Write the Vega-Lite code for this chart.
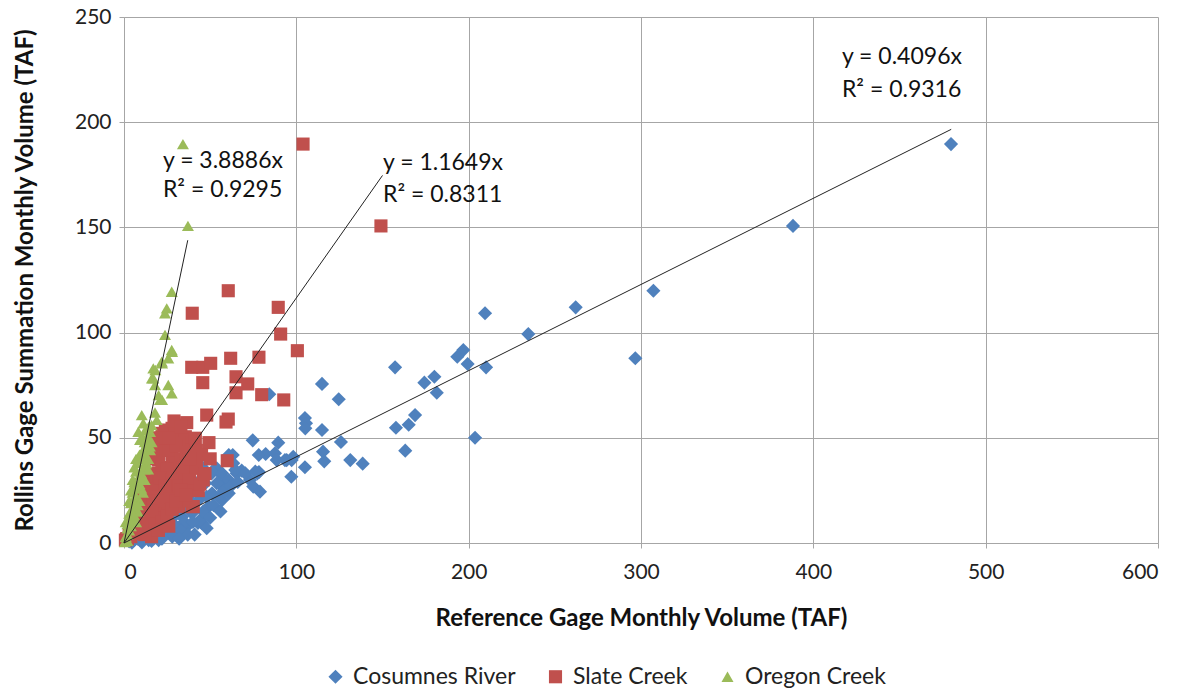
{
  "$schema": "https://vega.github.io/schema/vega-lite/v6.json",
  "width": 1034,
  "height": 526,
  "autosize": {"type": "none"},
  "padding": {"left": 124, "top": 17, "right": 27, "bottom": 151},
  "background": "white",
  "config": {
    "view": {"stroke": null},
    "font": "Lato",
    "axis": {"gridColor": "#a6a6a6", "gridWidth": 1, "domainColor": "#a6a6a6", "tickColor": "#a6a6a6", "tickSize": 5, "labelFont": "Lato", "labelFontSize": 21, "labelColor": "#222", "titleFont": "Lato", "titleFontSize": 24, "titleFontWeight": "bold", "titleColor": "#111"},
    "legend": {"labelFont": "Lato", "labelFontSize": 23, "labelColor": "#222", "labelLimit": 400}
  },
  "datasets": {
    "trend": [
      {"series": "Cosumnes River", "x": 0, "y": 0},
      {"series": "Cosumnes River", "x": 480, "y": 196.6},
      {"series": "Slate Creek", "x": 0, "y": 0},
      {"series": "Slate Creek", "x": 150, "y": 174.7},
      {"series": "Oregon Creek", "x": 0, "y": 0},
      {"series": "Oregon Creek", "x": 37, "y": 143.9}
    ],
    "notes": [
      {"label": "y = 0.4096x", "x": 416.6, "y": 231},
      {"label": "R² = 0.9316", "x": 416.6, "y": 215.3},
      {"label": "y = 1.1649x", "x": 150.3, "y": 180.6},
      {"label": "R² = 0.8311", "x": 150.3, "y": 165.4},
      {"label": "y = 3.8886x", "x": 22.6, "y": 181.6},
      {"label": "R² = 0.9295", "x": 22.6, "y": 167.8}
    ]
  },
  "data": {"values": [
    {"series": "Cosumnes River", "x": 479.9, "y": 189.6},
    {"series": "Cosumnes River", "x": 388.2, "y": 150.7},
    {"series": "Cosumnes River", "x": 307.2, "y": 119.9},
    {"series": "Cosumnes River", "x": 262.1, "y": 112.0},
    {"series": "Cosumnes River", "x": 234.6, "y": 99.3},
    {"series": "Cosumnes River", "x": 296.7, "y": 87.8},
    {"series": "Cosumnes River", "x": 209.5, "y": 109.2},
    {"series": "Cosumnes River", "x": 210.1, "y": 83.5},
    {"series": "Cosumnes River", "x": 196.9, "y": 91.7},
    {"series": "Cosumnes River", "x": 193.4, "y": 88.5},
    {"series": "Cosumnes River", "x": 199.4, "y": 85.1},
    {"series": "Cosumnes River", "x": 157.3, "y": 83.5},
    {"series": "Cosumnes River", "x": 180.1, "y": 79.0},
    {"series": "Cosumnes River", "x": 174.3, "y": 76.2},
    {"series": "Cosumnes River", "x": 181.5, "y": 71.4},
    {"series": "Cosumnes River", "x": 168.9, "y": 60.8},
    {"series": "Cosumnes River", "x": 165.2, "y": 56.2},
    {"series": "Cosumnes River", "x": 157.8, "y": 54.8},
    {"series": "Cosumnes River", "x": 163.2, "y": 43.9},
    {"series": "Cosumnes River", "x": 203.7, "y": 50.0},
    {"series": "Cosumnes River", "x": 114.9, "y": 75.6},
    {"series": "Cosumnes River", "x": 124.6, "y": 68.3},
    {"series": "Cosumnes River", "x": 105.0, "y": 59.4},
    {"series": "Cosumnes River", "x": 105.6, "y": 56.9},
    {"series": "Cosumnes River", "x": 105.2, "y": 54.5},
    {"series": "Cosumnes River", "x": 114.9, "y": 53.7},
    {"series": "Cosumnes River", "x": 125.9, "y": 48.0},
    {"series": "Cosumnes River", "x": 115.5, "y": 43.4},
    {"series": "Cosumnes River", "x": 116.2, "y": 38.8},
    {"series": "Cosumnes River", "x": 131.3, "y": 39.4},
    {"series": "Cosumnes River", "x": 138.5, "y": 37.7},
    {"series": "Cosumnes River", "x": 105.0, "y": 36.0},
    {"series": "Cosumnes River", "x": 97.1, "y": 31.5},
    {"series": "Cosumnes River", "x": 89.5, "y": 47.7},
    {"series": "Cosumnes River", "x": 74.7, "y": 48.8},
    {"series": "Cosumnes River", "x": 84.3, "y": 70.7},
    {"series": "Cosumnes River", "x": 82.2, "y": 42.3},
    {"series": "Cosumnes River", "x": 87.6, "y": 42.6},
    {"series": "Cosumnes River", "x": 88.6, "y": 39.4},
    {"series": "Cosumnes River", "x": 94.4, "y": 39.4},
    {"series": "Cosumnes River", "x": 97.3, "y": 39.4},
    {"series": "Cosumnes River", "x": 63.1, "y": 41.8},
    {"series": "Cosumnes River", "x": 78.3, "y": 33.7},
    {"series": "Cosumnes River", "x": 77.4, "y": 33.1},
    {"series": "Cosumnes River", "x": 68.3, "y": 34.4},
    {"series": "Cosumnes River", "x": 65.4, "y": 33.1},
    {"series": "Cosumnes River", "x": 59.6, "y": 29.1},
    {"series": "Cosumnes River", "x": 53.8, "y": 35.5},
    {"series": "Cosumnes River", "x": 50.9, "y": 33.1},
    {"series": "Cosumnes River", "x": 55.7, "y": 33.1},
    {"series": "Cosumnes River", "x": 73.1, "y": 29.9},
    {"series": "Cosumnes River", "x": 75.0, "y": 26.8},
    {"series": "Cosumnes River", "x": 78.9, "y": 24.4},
    {"series": "Cosumnes River", "x": 45.1, "y": 36.3},
    {"series": "Cosumnes River", "x": 42.9, "y": 9.5},
    {"series": "Cosumnes River", "x": 36.4, "y": 7.7},
    {"series": "Cosumnes River", "x": 60.8, "y": 41.8},
    {"series": "Cosumnes River", "x": 78.2, "y": 41.8},
    {"series": "Cosumnes River", "x": 51.1, "y": 33.9},
    {"series": "Cosumnes River", "x": 56.9, "y": 33.1},
    {"series": "Cosumnes River", "x": 64.6, "y": 34.7},
    {"series": "Cosumnes River", "x": 70.4, "y": 33.1},
    {"series": "Cosumnes River", "x": 76.2, "y": 33.9},
    {"series": "Cosumnes River", "x": 47.2, "y": 28.4},
    {"series": "Cosumnes River", "x": 55.0, "y": 28.4},
    {"series": "Cosumnes River", "x": 60.8, "y": 29.9},
    {"series": "Cosumnes River", "x": 51.1, "y": 23.6},
    {"series": "Cosumnes River", "x": 60.8, "y": 23.6},
    {"series": "Cosumnes River", "x": 43.3, "y": 20.4},
    {"series": "Cosumnes River", "x": 49.2, "y": 17.3},
    {"series": "Cosumnes River", "x": 56.9, "y": 20.4},
    {"series": "Cosumnes River", "x": 39.5, "y": 14.1},
    {"series": "Cosumnes River", "x": 45.3, "y": 9.4},
    {"series": "Cosumnes River", "x": 33.7, "y": 12.5},
    {"series": "Cosumnes River", "x": 27.9, "y": 9.4},
    {"series": "Cosumnes River", "x": 31.7, "y": 6.2},
    {"series": "Cosumnes River", "x": 24.0, "y": 4.6},
    {"series": "Cosumnes River", "x": 20.1, "y": 1.4},
    {"series": "Cosumnes River", "x": 14.3, "y": 1.4},
    {"series": "Cosumnes River", "x": 10.4, "y": 0.3},
    {"series": "Cosumnes River", "x": 4.6, "y": 0.2},
    {"series": "Cosumnes River", "x": 98.2, "y": 41.0},
    {"series": "Cosumnes River", "x": 93.4, "y": 39.4},
    {"series": "Cosumnes River", "x": 63.4, "y": 37.9},
    {"series": "Cosumnes River", "x": 44.1, "y": 29.9},
    {"series": "Cosumnes River", "x": 34.4, "y": 18.9},
    {"series": "Cosumnes River", "x": 44.1, "y": 10.9},
    {"series": "Cosumnes River", "x": 30.6, "y": 14.1},
    {"series": "Cosumnes River", "x": 24.8, "y": 7.7},
    {"series": "Cosumnes River", "x": 17.0, "y": 3.0},
    {"series": "Cosumnes River", "x": 9.3, "y": 1.4},
    {"series": "Cosumnes River", "x": 53.8, "y": 28.4},
    {"series": "Cosumnes River", "x": 38, "y": 16},
    {"series": "Cosumnes River", "x": 35, "y": 10},
    {"series": "Cosumnes River", "x": 28, "y": 12},
    {"series": "Cosumnes River", "x": 22, "y": 6},
    {"series": "Cosumnes River", "x": 18, "y": 5},
    {"series": "Cosumnes River", "x": 12, "y": 3},
    {"series": "Cosumnes River", "x": 8, "y": 2},
    {"series": "Cosumnes River", "x": 6, "y": 1.5},
    {"series": "Cosumnes River", "x": 3, "y": 0.8},
    {"series": "Cosumnes River", "x": 40, "y": 19},
    {"series": "Cosumnes River", "x": 48, "y": 22},
    {"series": "Cosumnes River", "x": 26, "y": 5},
    {"series": "Cosumnes River", "x": 41, "y": 4},
    {"series": "Cosumnes River", "x": 30, "y": 8},
    {"series": "Cosumnes River", "x": 33, "y": 6},
    {"series": "Cosumnes River", "x": 37, "y": 4},
    {"series": "Cosumnes River", "x": 40, "y": 10},
    {"series": "Cosumnes River", "x": 46, "y": 15},
    {"series": "Cosumnes River", "x": 50, "y": 12},
    {"series": "Cosumnes River", "x": 52, "y": 18},
    {"series": "Cosumnes River", "x": 55, "y": 22},
    {"series": "Cosumnes River", "x": 58, "y": 25},
    {"series": "Cosumnes River", "x": 62, "y": 27},
    {"series": "Cosumnes River", "x": 66, "y": 29},
    {"series": "Cosumnes River", "x": 28, "y": 3},
    {"series": "Cosumnes River", "x": 32, "y": 2},
    {"series": "Cosumnes River", "x": 22, "y": 2},
    {"series": "Cosumnes River", "x": 16, "y": 1},
    {"series": "Cosumnes River", "x": 48, "y": 7},
    {"series": "Cosumnes River", "x": 56, "y": 15},
    {"series": "Slate Creek", "x": 103.9, "y": 189.6},
    {"series": "Slate Creek", "x": 149.1, "y": 150.7},
    {"series": "Slate Creek", "x": 60.5, "y": 119.9},
    {"series": "Slate Creek", "x": 39.6, "y": 109.2},
    {"series": "Slate Creek", "x": 89.5, "y": 112.0},
    {"series": "Slate Creek", "x": 90.9, "y": 99.3},
    {"series": "Slate Creek", "x": 100.6, "y": 91.4},
    {"series": "Slate Creek", "x": 61.9, "y": 87.8},
    {"series": "Slate Creek", "x": 78.3, "y": 88.3},
    {"series": "Slate Creek", "x": 39.3, "y": 83.5},
    {"series": "Slate Creek", "x": 45.7, "y": 83.5},
    {"series": "Slate Creek", "x": 50.3, "y": 85.4},
    {"series": "Slate Creek", "x": 65.0, "y": 79.0},
    {"series": "Slate Creek", "x": 45.7, "y": 76.2},
    {"series": "Slate Creek", "x": 71.8, "y": 75.6},
    {"series": "Slate Creek", "x": 65.0, "y": 71.4},
    {"series": "Slate Creek", "x": 79.9, "y": 70.5},
    {"series": "Slate Creek", "x": 92.7, "y": 68.0},
    {"series": "Slate Creek", "x": 48.0, "y": 60.8},
    {"series": "Slate Creek", "x": 60.5, "y": 58.9},
    {"series": "Slate Creek", "x": 59.2, "y": 57.5},
    {"series": "Slate Creek", "x": 36.4, "y": 57.2},
    {"series": "Slate Creek", "x": 49.3, "y": 47.7},
    {"series": "Slate Creek", "x": 39.3, "y": 48.1},
    {"series": "Slate Creek", "x": 33.5, "y": 49.0},
    {"series": "Slate Creek", "x": 59.9, "y": 39.1},
    {"series": "Slate Creek", "x": 39.3, "y": 37.9},
    {"series": "Slate Creek", "x": 40.2, "y": 35.5},
    {"series": "Slate Creek", "x": 43.1, "y": 24.9},
    {"series": "Slate Creek", "x": 34.4, "y": 25.2},
    {"series": "Slate Creek", "x": 40.2, "y": 17.3},
    {"series": "Slate Creek", "x": 31.7, "y": 56.1},
    {"series": "Slate Creek", "x": 27.9, "y": 54.5},
    {"series": "Slate Creek", "x": 24.0, "y": 53.7},
    {"series": "Slate Creek", "x": 22.1, "y": 52.1},
    {"series": "Slate Creek", "x": 29.8, "y": 52.1},
    {"series": "Slate Creek", "x": 35.6, "y": 50.5},
    {"series": "Slate Creek", "x": 41.4, "y": 49.8},
    {"series": "Slate Creek", "x": 24.0, "y": 47.4},
    {"series": "Slate Creek", "x": 31.7, "y": 47.4},
    {"series": "Slate Creek", "x": 39.5, "y": 37.1},
    {"series": "Slate Creek", "x": 20.1, "y": 39.4},
    {"series": "Slate Creek", "x": 27.9, "y": 42.6},
    {"series": "Slate Creek", "x": 18.2, "y": 33.1},
    {"series": "Slate Creek", "x": 25.9, "y": 29.9},
    {"series": "Slate Creek", "x": 31.7, "y": 31.5},
    {"series": "Slate Creek", "x": 22.1, "y": 25.2},
    {"series": "Slate Creek", "x": 29.8, "y": 25.2},
    {"series": "Slate Creek", "x": 37.5, "y": 28.4},
    {"series": "Slate Creek", "x": 39.5, "y": 17.3},
    {"series": "Slate Creek", "x": 31.7, "y": 17.3},
    {"series": "Slate Creek", "x": 24.0, "y": 17.3},
    {"series": "Slate Creek", "x": 18.2, "y": 14.1},
    {"series": "Slate Creek", "x": 12.4, "y": 10.9},
    {"series": "Slate Creek", "x": 8.5, "y": 7.7},
    {"series": "Slate Creek", "x": 4.6, "y": 4.6},
    {"series": "Slate Creek", "x": 0.8, "y": 1.4},
    {"series": "Slate Creek", "x": 15, "y": 30},
    {"series": "Slate Creek", "x": 18, "y": 40},
    {"series": "Slate Creek", "x": 20, "y": 45},
    {"series": "Slate Creek", "x": 22, "y": 36},
    {"series": "Slate Creek", "x": 26, "y": 44},
    {"series": "Slate Creek", "x": 28, "y": 38},
    {"series": "Slate Creek", "x": 30, "y": 46},
    {"series": "Slate Creek", "x": 33, "y": 40},
    {"series": "Slate Creek", "x": 35, "y": 33},
    {"series": "Slate Creek", "x": 12, "y": 22},
    {"series": "Slate Creek", "x": 14, "y": 18},
    {"series": "Slate Creek", "x": 16, "y": 25},
    {"series": "Slate Creek", "x": 19, "y": 28},
    {"series": "Slate Creek", "x": 23, "y": 20},
    {"series": "Slate Creek", "x": 27, "y": 22},
    {"series": "Slate Creek", "x": 10, "y": 15},
    {"series": "Slate Creek", "x": 8, "y": 12},
    {"series": "Slate Creek", "x": 6, "y": 9},
    {"series": "Slate Creek", "x": 5, "y": 5},
    {"series": "Slate Creek", "x": 3, "y": 4},
    {"series": "Slate Creek", "x": 2, "y": 2},
    {"series": "Slate Creek", "x": 7, "y": 14},
    {"series": "Slate Creek", "x": 9, "y": 20},
    {"series": "Slate Creek", "x": 11, "y": 26},
    {"series": "Slate Creek", "x": 13, "y": 32},
    {"series": "Slate Creek", "x": 36, "y": 43},
    {"series": "Slate Creek", "x": 30, "y": 36},
    {"series": "Slate Creek", "x": 25, "y": 35},
    {"series": "Slate Creek", "x": 21, "y": 31},
    {"series": "Slate Creek", "x": 17, "y": 20},
    {"series": "Slate Creek", "x": 20, "y": 12},
    {"series": "Slate Creek", "x": 28, "y": 30},
    {"series": "Slate Creek", "x": 32, "y": 27},
    {"series": "Slate Creek", "x": 35, "y": 20},
    {"series": "Slate Creek", "x": 38, "y": 31},
    {"series": "Slate Creek", "x": 45, "y": 42},
    {"series": "Slate Creek", "x": 46, "y": 30},
    {"series": "Slate Creek", "x": 42, "y": 44},
    {"series": "Slate Creek", "x": 50, "y": 40},
    {"series": "Slate Creek", "x": 13, "y": 12},
    {"series": "Slate Creek", "x": 10, "y": 8},
    {"series": "Slate Creek", "x": 6, "y": 6},
    {"series": "Slate Creek", "x": 4, "y": 3},
    {"series": "Slate Creek", "x": 1.5, "y": 2},
    {"series": "Slate Creek", "x": 16, "y": 15},
    {"series": "Slate Creek", "x": 24, "y": 27},
    {"series": "Slate Creek", "x": 34, "y": 36},
    {"series": "Slate Creek", "x": 10, "y": 5},
    {"series": "Slate Creek", "x": 14, "y": 8},
    {"series": "Slate Creek", "x": 18, "y": 9},
    {"series": "Slate Creek", "x": 22, "y": 10},
    {"series": "Slate Creek", "x": 25, "y": 13},
    {"series": "Slate Creek", "x": 16, "y": 3},
    {"series": "Slate Creek", "x": 20, "y": 6},
    {"series": "Slate Creek", "x": 12, "y": 4},
    {"series": "Slate Creek", "x": 28, "y": 16},
    {"series": "Slate Creek", "x": 26, "y": 8},
    {"series": "Slate Creek", "x": 30, "y": 20},
    {"series": "Slate Creek", "x": 33, "y": 25},
    {"series": "Slate Creek", "x": 36, "y": 23},
    {"series": "Slate Creek", "x": 42, "y": 36},
    {"series": "Slate Creek", "x": 44, "y": 28},
    {"series": "Slate Creek", "x": 47, "y": 33},
    {"series": "Slate Creek", "x": 38, "y": 40},
    {"series": "Slate Creek", "x": 22, "y": 50},
    {"series": "Slate Creek", "x": 19, "y": 50},
    {"series": "Slate Creek", "x": 17, "y": 45},
    {"series": "Slate Creek", "x": 26, "y": 50},
    {"series": "Slate Creek", "x": 29, "y": 58},
    {"series": "Slate Creek", "x": 33, "y": 55},
    {"series": "Oregon Creek", "x": 34.2, "y": 189.6},
    {"series": "Oregon Creek", "x": 37.1, "y": 150.7},
    {"series": "Oregon Creek", "x": 27.7, "y": 119.4},
    {"series": "Oregon Creek", "x": 24.8, "y": 111.5},
    {"series": "Oregon Creek", "x": 23.8, "y": 109.2},
    {"series": "Oregon Creek", "x": 23.8, "y": 98.9},
    {"series": "Oregon Creek", "x": 27.7, "y": 91.7},
    {"series": "Oregon Creek", "x": 25.7, "y": 87.8},
    {"series": "Oregon Creek", "x": 17.0, "y": 83.0},
    {"series": "Oregon Creek", "x": 21.9, "y": 86.2},
    {"series": "Oregon Creek", "x": 17.0, "y": 78.3},
    {"series": "Oregon Creek", "x": 18.0, "y": 75.1},
    {"series": "Oregon Creek", "x": 25.7, "y": 75.1},
    {"series": "Oregon Creek", "x": 27.7, "y": 71.2},
    {"series": "Oregon Creek", "x": 20.9, "y": 68.0},
    {"series": "Oregon Creek", "x": 10.3, "y": 60.8},
    {"series": "Oregon Creek", "x": 11.2, "y": 56.9},
    {"series": "Oregon Creek", "x": 19.0, "y": 58.5},
    {"series": "Oregon Creek", "x": 8.3, "y": 52.9},
    {"series": "Oregon Creek", "x": 15.1, "y": 52.9},
    {"series": "Oregon Creek", "x": 9.3, "y": 49.0},
    {"series": "Oregon Creek", "x": 13.2, "y": 47.4},
    {"series": "Oregon Creek", "x": 15.1, "y": 44.2},
    {"series": "Oregon Creek", "x": 27.9, "y": 90.9},
    {"series": "Oregon Creek", "x": 22.1, "y": 85.4},
    {"series": "Oregon Creek", "x": 18.2, "y": 82.2},
    {"series": "Oregon Creek", "x": 16.2, "y": 78.3},
    {"series": "Oregon Creek", "x": 22.1, "y": 68.0},
    {"series": "Oregon Creek", "x": 20.1, "y": 70.3},
    {"series": "Oregon Creek", "x": 14.3, "y": 55.3},
    {"series": "Oregon Creek", "x": 12.4, "y": 53.7},
    {"series": "Oregon Creek", "x": 13.3, "y": 50.5},
    {"series": "Oregon Creek", "x": 12, "y": 42},
    {"series": "Oregon Creek", "x": 10, "y": 40},
    {"series": "Oregon Creek", "x": 8, "y": 38},
    {"series": "Oregon Creek", "x": 11, "y": 36},
    {"series": "Oregon Creek", "x": 7, "y": 34},
    {"series": "Oregon Creek", "x": 9, "y": 32},
    {"series": "Oregon Creek", "x": 12, "y": 30},
    {"series": "Oregon Creek", "x": 6, "y": 29},
    {"series": "Oregon Creek", "x": 8, "y": 27},
    {"series": "Oregon Creek", "x": 10, "y": 26},
    {"series": "Oregon Creek", "x": 5, "y": 24},
    {"series": "Oregon Creek", "x": 7, "y": 22},
    {"series": "Oregon Creek", "x": 9, "y": 20},
    {"series": "Oregon Creek", "x": 4, "y": 19},
    {"series": "Oregon Creek", "x": 6, "y": 17},
    {"series": "Oregon Creek", "x": 8, "y": 15},
    {"series": "Oregon Creek", "x": 3, "y": 14},
    {"series": "Oregon Creek", "x": 5, "y": 12},
    {"series": "Oregon Creek", "x": 7, "y": 10},
    {"series": "Oregon Creek", "x": 2, "y": 9},
    {"series": "Oregon Creek", "x": 4, "y": 8},
    {"series": "Oregon Creek", "x": 3, "y": 6},
    {"series": "Oregon Creek", "x": 2, "y": 4},
    {"series": "Oregon Creek", "x": 1, "y": 3},
    {"series": "Oregon Creek", "x": 1, "y": 1},
    {"series": "Oregon Creek", "x": 0.5, "y": 0.5},
    {"series": "Oregon Creek", "x": 2, "y": 1},
    {"series": "Oregon Creek", "x": 13, "y": 38},
    {"series": "Oregon Creek", "x": 14, "y": 40},
    {"series": "Oregon Creek", "x": 11, "y": 44},
    {"series": "Oregon Creek", "x": 6, "y": 36},
    {"series": "Oregon Creek", "x": 4, "y": 25},
    {"series": "Oregon Creek", "x": 10, "y": 33},
    {"series": "Oregon Creek", "x": 13, "y": 45},
    {"series": "Oregon Creek", "x": 9, "y": 42},
    {"series": "Oregon Creek", "x": 5, "y": 30},
    {"series": "Oregon Creek", "x": 3, "y": 20},
    {"series": "Oregon Creek", "x": 1, "y": 10},
    {"series": "Oregon Creek", "x": 14, "y": 50},
    {"series": "Oregon Creek", "x": 12, "y": 48},
    {"series": "Oregon Creek", "x": 16, "y": 56},
    {"series": "Oregon Creek", "x": 18, "y": 62},
    {"series": "Oregon Creek", "x": 11, "y": 50},
    {"series": "Oregon Creek", "x": 7, "y": 40},
    {"series": "Oregon Creek", "x": 6, "y": 26},
    {"series": "Oregon Creek", "x": 5, "y": 20},
    {"series": "Oregon Creek", "x": 4, "y": 15},
    {"series": "Oregon Creek", "x": 3, "y": 11},
    {"series": "Oregon Creek", "x": 2, "y": 7},
    {"series": "Oregon Creek", "x": 9, "y": 28},
    {"series": "Oregon Creek", "x": 11, "y": 24},
    {"series": "Oregon Creek", "x": 8, "y": 18},
    {"series": "Oregon Creek", "x": 6, "y": 13},
    {"series": "Oregon Creek", "x": 10, "y": 30},
    {"series": "Oregon Creek", "x": 12, "y": 35},
    {"series": "Oregon Creek", "x": 14, "y": 35},
    {"series": "Oregon Creek", "x": 15, "y": 46},
    {"series": "Oregon Creek", "x": 16, "y": 48}
  ]},
  "layer": [
    {
      "mark": {"type": "point", "filled": true, "opacity": 1, "strokeWidth": 0},
      "encoding": {
        "x": {"field": "x", "type": "quantitative", "scale": {"domain": [0, 600], "nice": false, "zero": true},
          "axis": {"values": [0, 100, 200, 300, 400, 500, 600], "title": "Reference Gage Monthly Volume (TAF)", "labelPadding": 13, "titleY": 75, "titleBaseline": "middle"}},
        "y": {"field": "y", "type": "quantitative", "scale": {"domain": [0, 250], "nice": false},
          "axis": {"values": [0, 50, 100, 150, 200, 250], "title": "Rollins Gage Summation Monthly Volume (TAF)", "labelPadding": 8, "titleX": -99, "titleY": 263, "titleAngle": -90, "titleAlign": "center", "titleBaseline": "middle"}},
        "color": {"field": "series", "type": "nominal",
          "scale": {"domain": ["Cosumnes River", "Slate Creek", "Oregon Creek"], "range": ["#4F81BD", "#C0504D", "#9BBB59"]},
          "legend": {"title": null, "orient": "none", "direction": "horizontal", "legendX": 200, "legendY": 648, "columnPadding": 28, "symbolSize": 70, "labelOffset": 6}},
        "shape": {"field": "series", "type": "nominal",
          "scale": {"domain": ["Cosumnes River", "Slate Creek", "Oregon Creek"], "range": ["diamond", "square", "triangle-up"]}},
        "size": {"field": "series", "type": "nominal",
          "scale": {"domain": ["Cosumnes River", "Slate Creek", "Oregon Creek"], "range": [200, 144, 160]}, "legend": null}
      }
    },
    {
      "data": {"name": "trend"},
      "mark": {"type": "line", "color": "#222", "strokeWidth": 1},
      "encoding": {
        "x": {"field": "x", "type": "quantitative"},
        "y": {"field": "y", "type": "quantitative"},
        "detail": {"field": "series", "type": "nominal"}
      }
    },
    {
      "data": {"name": "notes"},
      "mark": {"type": "text", "align": "left", "baseline": "middle", "fontSize": 23, "font": "Lato", "color": "#111"},
      "encoding": {
        "x": {"field": "x", "type": "quantitative"},
        "y": {"field": "y", "type": "quantitative"},
        "text": {"field": "label"}
      }
    }
  ]
}
